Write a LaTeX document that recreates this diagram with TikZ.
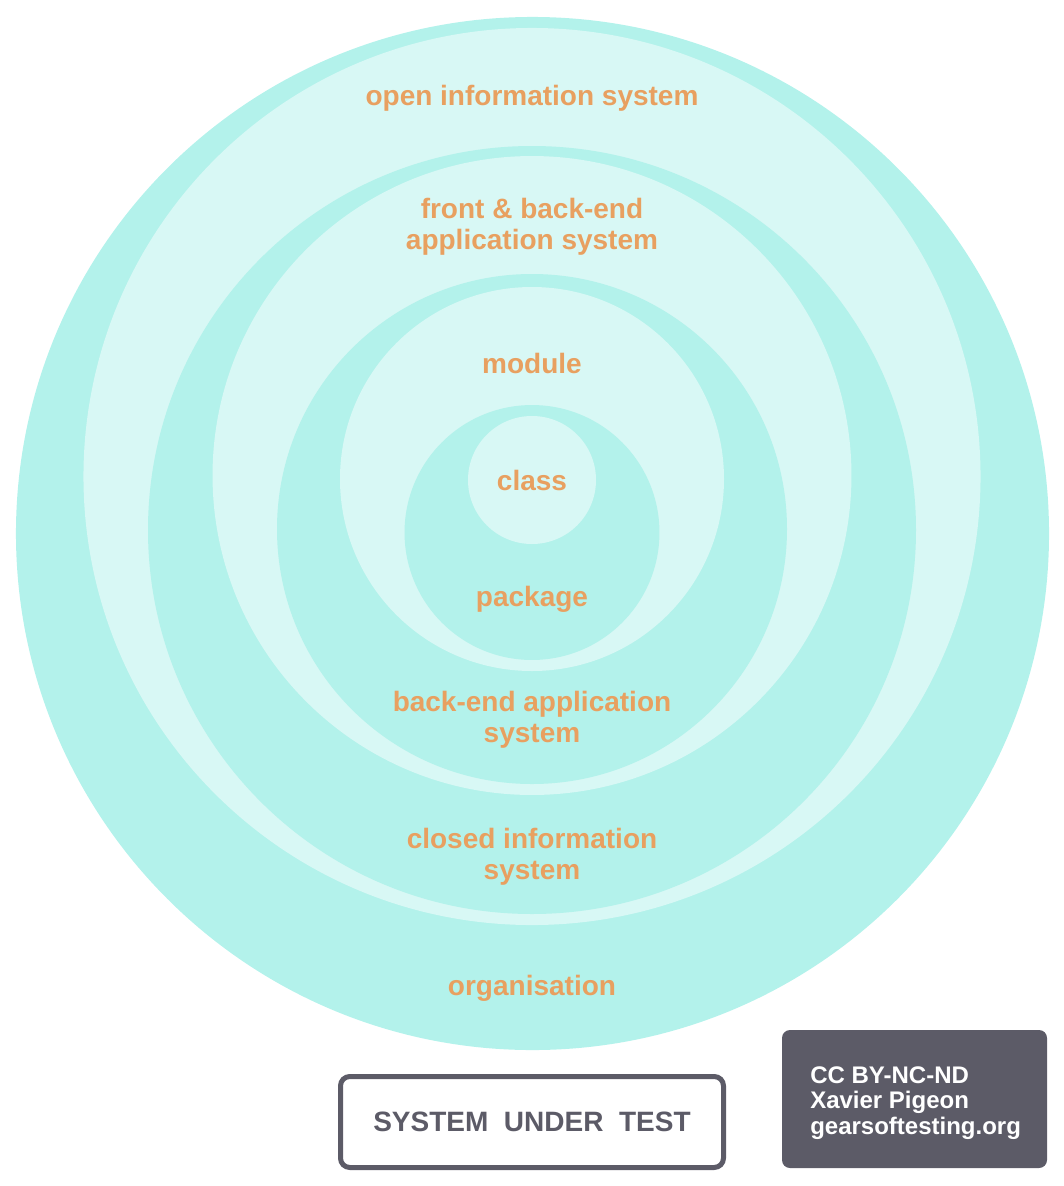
\documentclass[tikz,border=0pt]{standalone}
\usepackage{fontspec}
\setmainfont{Liberation Sans}
\definecolor{ringdark}{RGB}{179,242,235}
\definecolor{ringlight}{RGB}{216,248,245}
\definecolor{lblorange}{RGB}{232,160,96}
\definecolor{slate}{RGB}{92,91,103}
\tikzset{
  lbl/.style={font=\bfseries\fontsize{21}{23.25}\selectfont, text=lblorange, anchor=base, align=center, inner sep=0pt},
  sutbox/.style={draw=slate, line width=3.75pt, rounded corners=7pt, text=slate,
    font=\bfseries\fontsize{21}{24}\selectfont, minimum width=287.25pt, minimum height=68.25pt, inner sep=0pt},
  licbox/.style={fill=slate, rounded corners=6pt, minimum width=198.75pt, minimum height=103.5pt, inner sep=0pt},
  lictext/.style={text=white, align=left, anchor=base west, inner sep=0pt,
    font=\bfseries\fontsize{18}{19}\selectfont}
}
\begin{document}
\begin{tikzpicture}[x=0.75pt,y=-0.75pt]
\useasboundingbox (0,0) rectangle (1064,1186);
% rings
\fill[ringdark]  (532.5,533.5) circle[radius=387.4pt];
\fill[ringlight] (532,476.5)   circle[radius=336.4pt];
\fill[ringdark]  (532,530)     circle[radius=288pt];
\fill[ringlight] (532,475.5)   circle[radius=239.6pt];
\fill[ringdark]  (532,529)     circle[radius=191.25pt];
\fill[ringlight] (532,479)     circle[radius=144pt];
\fill[ringdark]  (532,532.5)   circle[radius=95.6pt];
\fill[ringlight] (532,480)     circle[radius=48pt];
% labels (base anchor of a multi-line node = last line)
\node[lbl] (open)    at (532,105) {open information system};
\node[lbl] (front)   at (532,249) {front \& back-end\\application system};
\node[lbl] (module)  at (532,373) {module};
\node[lbl] (class)   at (532,490) {class};
\node[lbl] (package) at (532,606) {package};
\node[lbl] (backend) at (532,742) {back-end application\\system};
\node[lbl] (closed)  at (532,879) {closed information\\system};
\node[lbl] (org)     at (532,995) {organisation};
% bottom boxes
\node[sutbox] (sut) at (532,1122) {SYSTEM~~UNDER~~TEST};
\node[licbox] (lic) at (914.5,1099) {};
\node[lictext] (lictxt) at (810,1134) {CC BY-NC-ND\\Xavier Pigeon\\gearsoftesting.org};
\end{tikzpicture}
\end{document}
